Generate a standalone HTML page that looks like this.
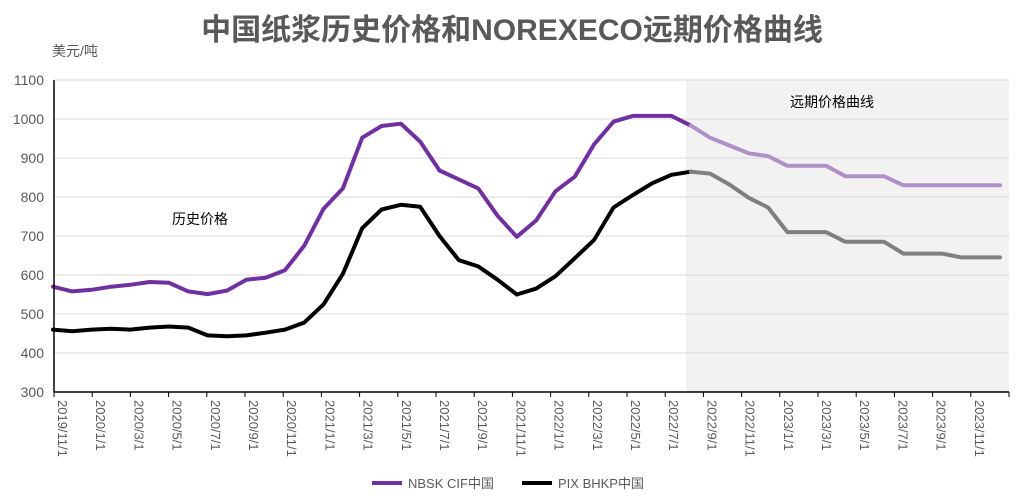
<!DOCTYPE html>
<html><head><meta charset="utf-8"><style>
body{margin:0;background:#fff;}
svg{display:block;font-family:"Liberation Sans","Noto Sans CJK SC",sans-serif;}
</style></head><body>
<svg id="chart" width="1024" height="498">
<text x="512" y="40" text-anchor="middle" font-size="30" font-weight="bold" fill="#595959">中国纸浆历史价格和NOREXECO远期价格曲线</text>
<text x="52" y="56" font-size="14" fill="#595959">美元/吨</text>
<rect x="686" y="80" width="323" height="312" fill="#f2f2f2"/>
<g id="grid"></g>
<g id="lines"></g>
<g id="axes"></g>
<text x="172" y="224" font-size="14" fill="#000">历史价格</text>
<text x="790" y="107" font-size="14" fill="#000">远期价格曲线</text>
<g>
<line x1="372" y1="483" x2="402" y2="483" stroke="#7030a0" stroke-width="4"/>
<text x="408" y="488" font-size="13" fill="#595959">NBSK CIF中国</text>
<line x1="522" y1="483" x2="552" y2="483" stroke="#000" stroke-width="4"/>
<text x="558" y="488" font-size="13" fill="#595959">PIX BHKP中国</text>
</g>
</svg>
<script>
const nbsk=[570,558,562,570,575,582,580,558,551,560,588,593,612,675,770,822,952,982,988,942,868,845,822,752,698,740,815,852,935,993,1008,1008,1008,983,952,932,912,905,880,880,880,853,853,853,830,830,830,830,830,830];
const pix=[460,456,460,462,460,465,468,465,445,443,445,452,460,478,525,603,720,768,780,775,700,638,622,588,550,565,597,643,690,773,805,835,857,865,860,832,798,773,710,710,710,685,685,685,655,655,655,645,645,645];
const forecastStart=33;
const yTicks=[300,400,500,600,700,800,900,1000,1100];
const xTickLabels=["2019/11/1","2020/1/1","2020/3/1","2020/5/1","2020/7/1","2020/9/1","2020/11/1","2021/1/1","2021/3/1","2021/5/1","2021/7/1","2021/9/1","2021/11/1","2022/1/1","2022/3/1","2022/5/1","2022/7/1","2022/9/1","2022/11/1","2023/1/1","2023/3/1","2023/5/1","2023/7/1","2023/9/1","2023/11/1"];
const NS="http://www.w3.org/2000/svg";
const y=v=>392-(v-300)*312/800;
const x=i=>53+i*(947/(nbsk.length-1));
const tx=k=>54+k*38.2;
function mk(tag,attrs,parent){const e=document.createElementNS(NS,tag);for(const k in attrs)e.setAttribute(k,attrs[k]);document.getElementById(parent).appendChild(e);return e;}
yTicks.forEach(v=>{
 if(v>300){const g=mk('line',{x1:54,x2:1009,y1:y(v),y2:y(v),stroke:'#d9d9d9','stroke-width':1},'grid');
 
 }
 const t=mk('text',{x:44,y:y(v)+5,'text-anchor':'end','font-size':14,fill:'#595959'},'axes');
 t.textContent=v;
 
 
});
function path(arr,a,b,color,name){
 let d='';for(let i=a;i<=b;i++)d+=(i===a?'M':'L')+x(i).toFixed(1)+','+y(arr[i]).toFixed(1);
 const p=mk('path',{d:d,fill:'none',stroke:color,'stroke-width':4,'stroke-linejoin':'round','stroke-linecap':'round'},'lines');
 
 
}
path(nbsk,0,forecastStart,'#7030a0','nbsk-history-line');
path(nbsk,forecastStart,nbsk.length-1,'#b18fc9','nbsk-forecast-line');
path(pix,0,forecastStart,'#000','pix-history-line');
path(pix,forecastStart,pix.length-1,'#7f7f7f','pix-forecast-line');
let a=mk('line',{x1:54,x2:54,y1:80,y2:392,stroke:'#000','stroke-width':1.5},'axes');


a=mk('line',{x1:54,x2:1009,y1:392,y2:392,stroke:'#000','stroke-width':1.5},'axes');


for(let k=0;k<=xTickLabels.length;k++){
 const t=mk('line',{x1:tx(k),x2:tx(k),y1:392,y2:397,stroke:'#000','stroke-width':1},'axes');
 
 
}
xTickLabels.forEach((l,k)=>{
 const t=mk('text',{x:0,y:0,'font-size':13,fill:'#595959',transform:'translate('+(tx(k)+4)+',400) rotate(90)'},'axes');
 t.textContent=l;
 
 
});
</script>
</body></html>
